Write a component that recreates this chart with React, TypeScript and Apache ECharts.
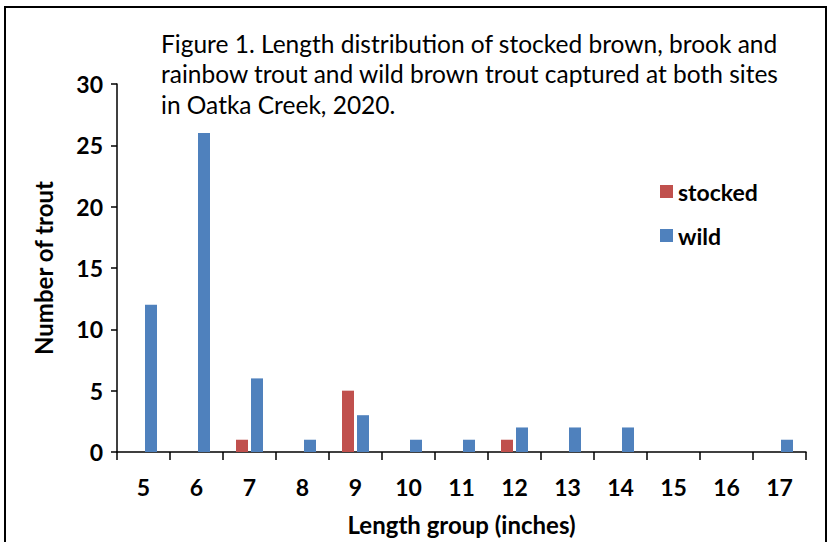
import React, { useEffect, useRef } from "react";
import * as echarts from "echarts";

const categories = ["5", "6", "7", "8", "9", "10", "11", "12", "13", "14", "15", "16", "17"];
const stocked = [0, 0, 1, 0, 5, 0, 0, 1, 0, 0, 0, 0, 0];
const wild = [12, 26, 6, 1, 3, 1, 1, 2, 2, 2, 0, 0, 1];
const titleLines = [
  "Figure 1. Length distribution of stocked brown, brook and",
  "rainbow trout and wild brown trout captured at both sites",
  "in Oatka Creek, 2020.",
];

const FONT = "Lato, 'Open Sans', sans-serif";

export default function App() {
  const ref = useRef<HTMLDivElement>(null);
  useEffect(() => {
    const chart = echarts.init(ref.current!, null, { renderer: "svg" });
    chart.setOption({
      animation: false,
      textStyle: { fontFamily: FONT },
      grid: { left: 117, right: 26, top: 84, bottom: 90 },
      legend: {
        orient: "vertical",
        left: 655,
        top: 175,
        itemWidth: 13,
        itemHeight: 13,
        itemGap: 21,
        icon: "rect",
        textStyle: { fontSize: 23, fontWeight: "bold", color: "#000", fontFamily: FONT },
        data: ["stocked", "wild"],
      },
      graphic: [
        {
          type: "rect",
          shape: { x: 5, y: 7, width: 821, height: 545 },
          style: { fill: "none", stroke: "#000", lineWidth: 2 },
          silent: true,
        },
        {
          type: "text",
          left: 161,
          top: 28,
          style: {
            text: titleLines.join("\n"),
            font: `24.5px ${FONT}`,
            lineHeight: 30.5,
            fill: "#000",
          },
        },
      ],
      xAxis: {
        type: "category",
        data: categories,
        name: "Length group (inches)",
        nameLocation: "middle",
        nameGap: 60,
        nameTextStyle: { fontSize: 24, fontWeight: "bold", color: "#000" },
        axisLine: { lineStyle: { color: "#000", width: 1.5 } },
        axisTick: { show: true, length: 8, lineStyle: { color: "#000", width: 1.5 } },
        axisLabel: { fontSize: 23, fontWeight: "bold", color: "#000", margin: 23 },
      },
      yAxis: {
        type: "value",
        min: 0,
        max: 30,
        interval: 5,
        name: "Number of trout",
        nameLocation: "middle",
        nameGap: 62,
        nameTextStyle: { fontSize: 24, fontWeight: "bold", color: "#000" },
        splitLine: { show: false },
        axisLine: { show: true, lineStyle: { color: "#000", width: 1.5 } },
        axisTick: { show: true, length: 6, lineStyle: { color: "#000", width: 1.5 } },
        axisLabel: { fontSize: 23, fontWeight: "bold", color: "#000", margin: 14 },
      },
      series: [
        {
          name: "stocked",
          type: "bar",
          data: stocked,
          barWidth: 12,
          barGap: "25%",
          itemStyle: { color: "#C0504D" },
        },
        {
          name: "wild",
          type: "bar",
          data: wild,
          barWidth: 12,
          barGap: "25%",
          itemStyle: { color: "#4F81BD" },
        },
      ],
    });
    return () => chart.dispose();
  }, []);
  return (
    <div
      ref={ref}
      style={{ position: "absolute", left: 0, top: 0, width: 832, height: 542, background: "#fff" }}
    />
  );
}
